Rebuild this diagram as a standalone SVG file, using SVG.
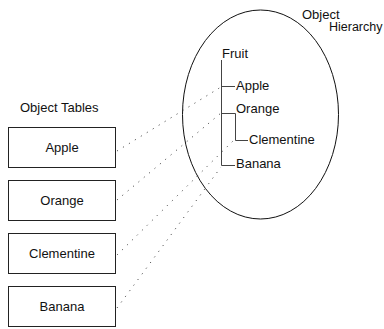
<svg xmlns="http://www.w3.org/2000/svg" width="384" height="329" viewBox="0 0 384 329">
<style>
text{font-family:"Liberation Sans",Arial,sans-serif;font-size:13px;fill:#111}
.box{fill:#fff;stroke:#222;stroke-width:1}
.tree{fill:none;stroke:#444;stroke-width:1}
.dot{fill:none;stroke:#333;stroke-width:1;stroke-dasharray:1 6}
.mid{text-anchor:middle}
</style>
<rect width="384" height="329" fill="#fff"/>
<g id="hierarchy">
<ellipse cx="260.5" cy="114.5" rx="78" ry="104.5" fill="none" stroke="#111" stroke-width="1"/>
<text x="302" y="19">Object</text>
<text x="329" y="31" style="font-size:12.5px">Hierarchy</text>
</g>
<g id="tree">
<path class="tree" d="M221.5 60V165.5H235M221.5 86.5H235M221.5 113.5H235.5V140.5H248"/>
<text x="222" y="58">Fruit</text>
<text x="236" y="90">Apple</text>
<text x="236" y="113">Orange</text>
<text x="249" y="144">Clementine</text>
<text x="236" y="168">Banana</text>
</g>
<text x="20" y="112">Object Tables</text>
<g id="apple"><rect class="box" x="8.5" y="127.5" width="107" height="40"/><text class="mid" x="62" y="152">Apple</text></g>
<g id="orange"><rect class="box" x="8.5" y="180.5" width="107" height="40"/><text class="mid" x="62" y="205">Orange</text></g>
<g id="clementine"><rect class="box" x="8.5" y="233.5" width="107" height="40"/><text class="mid" x="62" y="258">Clementine</text></g>
<g id="banana"><rect class="box" x="8.5" y="286.5" width="107" height="40"/><text class="mid" x="62" y="311">Banana</text></g>
<g id="connectors">
<line class="dot" x1="117" y1="151" x2="221" y2="87"/>
<line class="dot" x1="117" y1="200" x2="221" y2="113"/>
<line class="dot" x1="117" y1="255" x2="234" y2="140"/>
<line class="dot" x1="117" y1="308" x2="221" y2="167"/>
</g>
</svg>
